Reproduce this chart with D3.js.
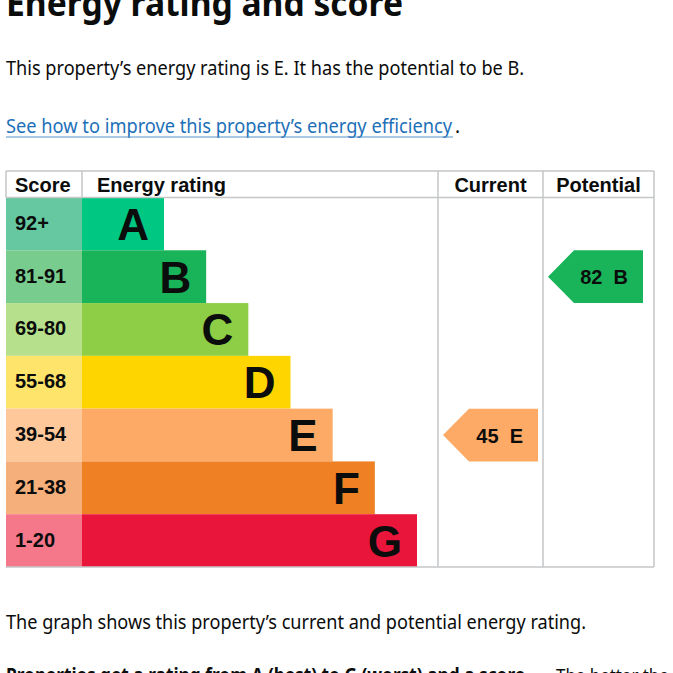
<!DOCTYPE html>
<html>
<head>
<meta charset="utf-8">
<script src="https://cdn.jsdelivr.net/npm/d3@7"></script>
<style>
  html, body { margin: 0; padding: 0; background: #ffffff; overflow: hidden; }
  svg { display: block; }
</style>
</head>
<body>
<svg id="chart" width="673" height="673"></svg>
<script>
// ---- data ----
const bands = ["A", "B", "C", "D", "E", "F", "G"];
const scoreRanges = ["92+", "81-91", "69-80", "55-68", "39-54", "21-38", "1-20"];
const bandColors = ["#00c781", "#19b459", "#8dce46", "#ffd500", "#fcaa65", "#ef8023", "#e9153b"];
const scoreColors = ["#66c8a1", "#78cc8e", "#b6e08b", "#ffe46b", "#fec89b", "#f5af7a", "#f5778a"];
const bandRank = [1, 2, 3, 4, 5, 6, 7];
const columnHeaders = ["Score", "Energy rating", "Current", "Potential"];
const ratings = [
  { column: "Current", score: 45, band: "E" },
  { column: "Potential", score: 82, band: "B" }
];
const titleText = "Energy rating and score";
const introText = "This property\u2019s energy rating is E. It has the potential to be B.";
const linkText = "See how to improve this property\u2019s energy efficiency";
const graphText = "The graph shows this property\u2019s current and potential energy rating.";
const boldNote = "Properties get a rating from A (best) to G (worst) and a score.";
const noteText = "The better the rating and score, the lower your energy bills are likely to be.";

// ---- layout ----
const svg = d3.select("#chart");
const bodyFont = "'Noto Sans', 'DejaVu Sans', sans-serif";
const chartFont = "'Liberation Sans', Arial, sans-serif";
const ink = "#0b0c0c";
const grid = "#c4c6c8";

const colEdges = [6, 82, 438, 543, 654];
const tableTop = 171, headTop = 171, headBottom = 197.5, tableBottom = 567;

const y = d3.scaleBand().domain(bands).range([headBottom, tableBottom]).padding(0);
const barLen = d3.scaleLinear().domain([1, 7]).range([82, 335]);
const colX = d3.scaleOrdinal().domain(columnHeaders).range(colEdges.slice(0, 4));
const colW = d3.scaleOrdinal().domain(columnHeaders).range(colEdges.slice(1).map((e, i) => e - colEdges[i]));

// ---- page text ----
svg.append("text").attr("x", 6).attr("y", 16)
  .attr("font-family", bodyFont).attr("font-weight", 700).attr("font-size", 36)
  .attr("fill", ink).attr("textLength", 397).attr("lengthAdjust", "spacingAndGlyphs")
  .text(titleText);

svg.append("text").attr("x", 6).attr("y", 75)
  .attr("font-family", bodyFont).attr("font-size", 19)
  .attr("fill", ink).attr("textLength", 518).attr("lengthAdjust", "spacingAndGlyphs")
  .text(introText);

svg.append("text").attr("x", 6).attr("y", 133)
  .attr("font-family", bodyFont).attr("font-size", 19)
  .attr("fill", "#1d70b8").attr("textLength", 446).attr("lengthAdjust", "spacingAndGlyphs")
  .text(linkText);
svg.append("line").attr("x1", 6).attr("x2", 453).attr("y1", 137).attr("y2", 137)
  .attr("stroke", "#5694ca").attr("stroke-width", 1.2);
svg.append("text").attr("x", 455).attr("y", 133)
  .attr("font-family", bodyFont).attr("font-size", 19).attr("fill", ink).text(".");

svg.append("text").attr("x", 6).attr("y", 629)
  .attr("font-family", bodyFont).attr("font-size", 19)
  .attr("fill", ink).attr("textLength", 580).attr("lengthAdjust", "spacingAndGlyphs")
  .text(graphText);

svg.append("text").attr("x", 6).attr("y", 682)
  .attr("font-family", bodyFont).attr("font-weight", 700).attr("font-size", 19)
  .attr("fill", ink).attr("textLength", 524).attr("lengthAdjust", "spacingAndGlyphs")
  .text(boldNote);
svg.append("text").attr("x", 556).attr("y", 682)
  .attr("font-family", bodyFont).attr("font-size", 19)
  .attr("fill", ink).attr("transform", "translate(556,0) scale(0.89,1) translate(-556,0)")
  .text(noteText);

// ---- table ----
const table = svg.append("g");

// score cells
table.selectAll("rect.score").data(bands).join("rect")
  .attr("class", "score")
  .attr("x", colX("Score")).attr("y", d => y(d))
  .attr("width", colW("Score")).attr("height", y.bandwidth())
  .attr("fill", (d, i) => scoreColors[i]);

table.selectAll("text.score").data(bands).join("text")
  .attr("class", "score")
  .attr("x", colX("Score") + 9).attr("y", d => y(d) + y.bandwidth() / 2 + 6)
  .attr("font-family", chartFont).attr("font-weight", 700).attr("font-size", 20)
  .attr("fill", ink)
  .text((d, i) => scoreRanges[i]);

// rating bars
table.selectAll("rect.bar").data(bands).join("rect")
  .attr("class", "bar")
  .attr("x", colX("Energy rating")).attr("y", d => y(d))
  .attr("width", (d, i) => barLen(bandRank[i])).attr("height", y.bandwidth())
  .attr("fill", (d, i) => bandColors[i]);

table.selectAll("text.bar").data(bands).join("text")
  .attr("class", "bar")
  .attr("x", (d, i) => colX("Energy rating") + barLen(bandRank[i]) - 15)
  .attr("y", d => y(d) + y.bandwidth() / 2 + 16)
  .attr("text-anchor", "end")
  .attr("font-family", chartFont).attr("font-weight", 700).attr("font-size", 44)
  .attr("fill", ink)
  .text(d => d);

// grid lines
const lines = [
  [colEdges[0], tableTop, colEdges[4], tableTop],
  [colEdges[0], headBottom, colEdges[4], headBottom],
  [colEdges[0], tableBottom, colEdges[4], tableBottom],
  [colEdges[1], headTop, colEdges[1], headBottom],
  [colEdges[2], tableTop, colEdges[2], tableBottom],
  [colEdges[3], tableTop, colEdges[3], tableBottom],
  [colEdges[4], tableTop, colEdges[4], tableBottom],
  [colEdges[0], tableTop, colEdges[0], headBottom]
];
table.selectAll("line.grid").data(lines).join("line")
  .attr("class", "grid")
  .attr("x1", d => d[0]).attr("y1", d => d[1]).attr("x2", d => d[2]).attr("y2", d => d[3])
  .attr("stroke", grid).attr("stroke-width", 1.5);

// headers
table.selectAll("text.head").data(columnHeaders).join("text")
  .attr("class", "head")
  .attr("x", (d, i) => i < 2 ? colX(d) + 9 + (i === 1 ? 6 : 0) : colX(d) + colW(d) / 2)
  .attr("y", 192)
  .attr("text-anchor", (d, i) => i < 2 ? "start" : "middle")
  .attr("font-family", chartFont).attr("font-weight", 700).attr("font-size", 20)
  .attr("fill", ink)
  .text(d => d);

// rating arrows
const tip = 26, arrowW = 95;
const arrows = table.selectAll("g.arrow").data(ratings).join("g").attr("class", "arrow");
arrows.append("path")
  .attr("d", d => {
    const x0 = colX(d.column) + 5;
    const top = y(d.band), bot = y(d.band) + y.bandwidth(), mid = top + y.bandwidth() / 2;
    return `M${x0},${mid}L${x0 + tip},${top}L${x0 + arrowW},${top}L${x0 + arrowW},${bot}L${x0 + tip},${bot}Z`;
  })
  .attr("fill", d => bandColors[bands.indexOf(d.band)]);
arrows.append("text")
  .attr("x", d => colX(d.column) + 5 + arrowW - 15)
  .attr("y", d => y(d.band) + y.bandwidth() / 2 + 7.5)
  .attr("text-anchor", "end")
  .attr("font-family", chartFont).attr("font-weight", 700).attr("font-size", 20)
  .attr("fill", ink)
  .text(d => `${d.score}\u00a0\u00a0${d.band}`);
</script>
</body>
</html>
